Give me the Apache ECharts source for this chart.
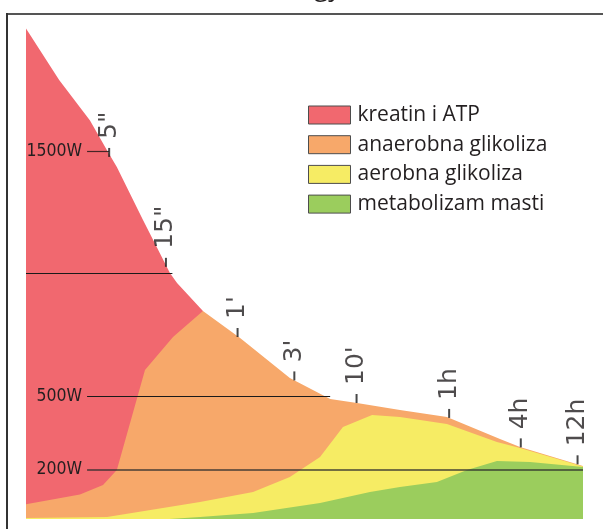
<!DOCTYPE html>
<html>
<head>
<meta charset="utf-8">
<script src="https://cdn.jsdelivr.net/npm/echarts@6/dist/echarts.min.js"></script>
<style>
  html, body { margin: 0; padding: 0; background: #fff; }
  #chart { width: 603px; height: 529px; }
</style>
</head>
<body>
<div id="chart"></div>
<script>
// Power output (W) over exercise duration (seconds, log scale).
// Each array is the upper edge of a band measured from 0 W, so the
// bands are drawn back to front: creatine, anaerobic, aerobic, fat.
const creatineTop = [[1, 2000], [1.9, 1790], [3.45, 1625], [4.9, 1495], [5.8, 1435], [9.6, 1220], [16.2, 1003], [18.6, 962], [23.9, 905], [30.7, 848]];
const anaerobicTop = [[1, 60], [2.84, 100], [4.44, 139], [5.8, 200], [10, 607], [17.2, 742], [30.7, 848], [63, 738], [165, 575], [360, 489], [605, 473], [1390, 444], [3450, 416], [9630, 326], [14200, 294], [48000, 216]];
const aerobicTop = [[1, 4], [4.8, 8], [29, 69], [81, 110], [165, 171], [296, 253], [461, 375], [810, 424], [1390, 416], [3450, 387], [9080, 314], [14200, 289], [48000, 214]];
const fatTop = [[16, 0], [29, 8], [81, 24], [296, 65], [778, 110], [1390, 130], [2840, 151], [5085, 200], [9080, 236], [17200, 232], [48000, 212]];

const bandNames = ['kreatin i ATP', 'anaerobna glikoliza', 'aerobna glikoliza', 'metabolizam masti'];
const bandColors = ['#f1686f', '#f7a86a', '#f6ec64', '#9bcd5d'];

// Duration marks placed along the top edge
const timeTicks = [5, 15, 60, 180, 600, 3600, 14400, 43200];
const timeLabels = ['5"', '15"', "1'", "3'", "10'", '1h', '4h', '12h'];
const timeTickPower = [1476, 1028, 742, 565, 473, 412, 292, 223];

// Horizontal power reference lines
const powerLevels = [1500, 1000, 500, 200];
const powerLabels = ['1500W', '', '500W', '200W'];
const powerLineFrom = [3.26, 1, 3.26, 3.26];
const powerLineTo = [5, 17, 360, 48000];
const powerLineStyles = [
  { color: 'rgba(40,25,25,0.85)', width: 1.2 },
  { color: '#1a1a1a', width: 1 },
  { color: '#1a1a1a', width: 1 },
  { color: 'rgba(45,45,45,0.65)', width: 2 }
];

const chart = echarts.init(document.getElementById('chart'), null, { renderer: 'canvas' });

const bands = [creatineTop, anaerobicTop, aerobicTop, fatTop].map((data, i) => ({
  name: bandNames[i],
  type: 'line',
  data: data,
  symbol: 'none',
  showSymbol: false,
  color: bandColors[i],
  lineStyle: { width: 0, opacity: 0 },
  areaStyle: { color: bandColors[i], opacity: 1 },
  itemStyle: { color: bandColors[i] },
  emphasis: { disabled: true },
  silent: true,
  z: 2
}));

const referenceLines = {
  type: 'line',
  data: [],
  silent: true,
  z: 10,
  markLine: {
    symbol: 'none',
    silent: true,
    animation: false,
    data: powerLevels.map((w, i) => [
      {
        coord: [powerLineFrom[i], w],
        lineStyle: Object.assign({ type: 'solid' }, powerLineStyles[i]),
        label: {
          show: powerLabels[i] !== '',
          formatter: powerLabels[i],
          position: 'start',
          distance: 5,
          fontFamily: '"Liberation Sans Narrow", "DejaVu Sans Condensed", sans-serif',
          fontSize: 17.5,
          color: '#231f20'
        }
      },
      { coord: [powerLineTo[i], w] }
    ])
  }
};

const durationMarks = {
  type: 'scatter',
  data: timeTicks.map((t, i) => [t, timeTickPower[i]]),
  symbol: 'rect',
  symbolSize: [2, 9],
  symbolOffset: [0, '-50%'],
  itemStyle: { color: '#1a1a1a' },
  silent: true,
  z: 11,
  label: {
    show: true,
    formatter: p => timeLabels[p.dataIndex],
    position: 'top',
    distance: 9,
    rotate: 90,
    align: 'left',
    verticalAlign: 'middle',
    fontFamily: '"DejaVu Sans", sans-serif',
    fontSize: 25,
    color: '#231f20'
  }
};

chart.setOption({
  animation: false,
  backgroundColor: '#ffffff',
  grid: { left: 26, right: 20, top: 3.87, bottom: 10, containLabel: false },
  xAxis: {
    type: 'log',
    logBase: 10,
    min: 1,
    max: 48000,
    axisLine: { show: false },
    axisTick: { show: false },
    axisLabel: { show: false },
    splitLine: { show: false }
  },
  yAxis: {
    type: 'value',
    min: 0,
    max: 2100,
    axisLine: { show: false },
    axisTick: { show: false },
    axisLabel: { show: false },
    splitLine: { show: false }
  },
  legend: {
    data: bandNames,
    orient: 'vertical',
    left: 303,
    top: 99.5,
    icon: 'rect',
    itemWidth: 42,
    itemHeight: 18,
    itemGap: 8.7,
    itemStyle: { borderColor: '#4d4d4d', borderWidth: 1 },
    selectedMode: false,
    textStyle: {
      fontFamily: '"Open Sans", sans-serif',
      fontSize: 21,
      color: '#231f20',
      padding: [0, 0, 0, 2]
    }
  },
  graphic: [
    { type: 'line', shape: { x1: 7, y1: 14, x2: 603, y2: 14 }, style: { stroke: '#555', lineWidth: 2 }, silent: true },
    { type: 'line', shape: { x1: 7, y1: 13, x2: 7, y2: 529 }, style: { stroke: '#333', lineWidth: 2 }, silent: true },
    { type: 'text', x: 300, y: -11, style: { text: 'Energy', font: '26px "Open Sans"', fill: '#231f20', align: 'center', verticalAlign: 'middle' }, silent: true }
  ],
  series: bands.concat([referenceLines, durationMarks])
});
</script>
</body>
</html>
